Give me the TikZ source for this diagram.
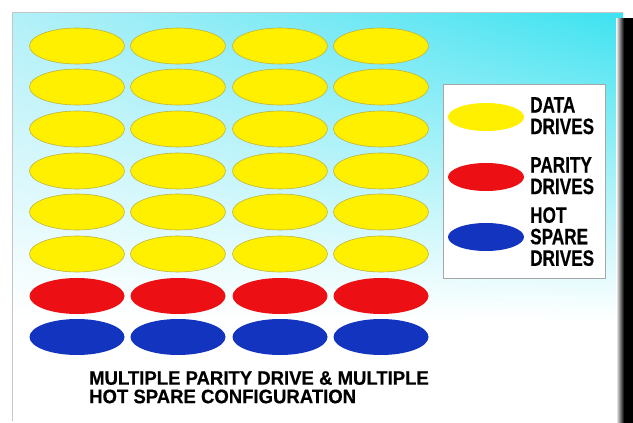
\documentclass[tikz,border=0pt]{standalone}
\usepackage{fontspec}
\setmainfont{Liberation Sans}
\newfontfamily\legfont{Liberation Sans}[FakeStretch=0.77,FakeBold=0.4]
\newfontfamily\capfont{Liberation Sans}[FakeStretch=0.95,FakeBold=0.4]
\usetikzlibrary{shapes.geometric,shadings}
\definecolor{cyanA}{RGB}{178,240,248}
\definecolor{cyanB}{RGB}{60,226,240}
\definecolor{drvY}{RGB}{255,240,0}
\definecolor{drvYe}{RGB}{190,180,60}
\definecolor{drvR}{RGB}{236,16,20}
\definecolor{drvB}{RGB}{18,52,190}
\tikzset{
  drive/.style={ellipse, minimum width=95pt, minimum height=36pt, inner sep=0pt},
  legdrive/.style={ellipse, minimum width=76pt, minimum height=28pt, inner sep=0pt},
  ydrive/.style={fill=drvY, draw=drvYe, line width=0.6pt},
  rdrive/.style={fill=drvR},
  bdrive/.style={fill=drvB},
  legtext/.style={anchor=north west, inner sep=0pt, align=left,
    font=\legfont\bfseries\fontsize{22.3}{21.5}\selectfont},
  captext/.style={anchor=north west, inner sep=0pt, align=left,
    font=\capfont\bfseries\fontsize{19.5}{18.5}\selectfont}
}
\begin{document}
\begin{tikzpicture}[x=1pt,y=-1pt]
\useasboundingbox (0,0) rectangle (633,423);
\fill[white] (0,0) rectangle (633,423);
% background panel
\shade[upper left=cyanA, upper right=cyanB, lower left=white, lower right=white]
  (12,12) rectangle (623,320);
\draw[gray!45, line width=0.8pt] (12,421) -- (12,12) -- (623,12);
% right black edge
\shade[left color=white, right color=black] (616,18) rectangle (624,423);
\fill[black] (624,18) rectangle (633,423);
% drive grid
\foreach \c [count=\i] in {77,178,280,381}{
  \foreach \r [count=\j] in {46,87,129,171,212,254}{
    \node[drive, ydrive] (y\j-\i) at (\c,\r) {};
  }
  \node[drive, rdrive] (r-\i) at (\c,296) {};
  \node[drive, bdrive] (b-\i) at (\c,337) {};
}
% legend
\node[draw=gray!70, fill=white, line width=0.8pt, minimum width=162pt, minimum height=194pt,
  inner sep=0pt] (legend) at (524,181) {};
\node[legdrive, fill=drvY] (ly) at (486,117) {};
\node[legdrive, fill=drvR] (lr) at (486,177) {};
\node[legdrive, fill=drvB] (lb) at (486,237) {};
\node[legtext] (ty) at (530,97) {DATA\\DRIVES};
\node[legtext] (tr) at (530,157) {PARITY\\DRIVES};
\node[legtext] (tb) at (530,207) {HOT\\SPARE\\DRIVES};
% caption
\node[captext] (cap) at (89,371) {MULTIPLE PARITY DRIVE \& MULTIPLE\\HOT SPARE CONFIGURATION};
\end{tikzpicture}
\end{document}
